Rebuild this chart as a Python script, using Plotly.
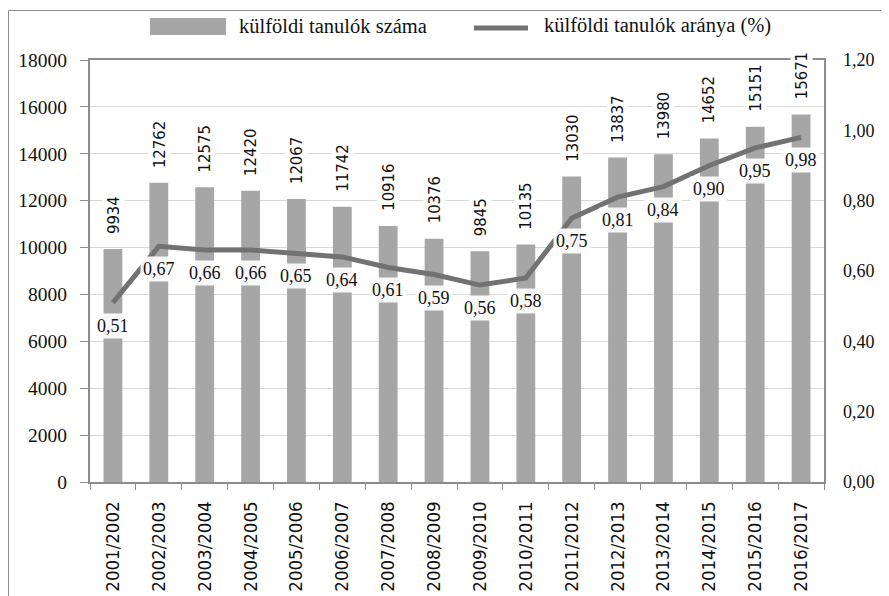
import plotly.graph_objects as go

categories = ["2001/2002", "2002/2003", "2003/2004", "2004/2005", "2005/2006", "2006/2007",
              "2007/2008", "2008/2009", "2009/2010", "2010/2011", "2011/2012", "2012/2013",
              "2013/2014", "2014/2015", "2015/2016", "2016/2017"]
student_counts = [9934, 12762, 12575, 12420, 12067, 11742, 10916, 10376, 9845, 10135,
                  13030, 13837, 13980, 14652, 15151, 15671]
student_share = [0.51, 0.67, 0.66, 0.66, 0.65, 0.64, 0.61, 0.59, 0.56, 0.58,
                 0.75, 0.81, 0.84, 0.90, 0.95, 0.98]
left_ticks = [0, 2000, 4000, 6000, 8000, 10000, 12000, 14000, 16000, 18000]
right_ticks = [0, 0.2, 0.4, 0.6, 0.8, 1.0, 1.2]
series_names = ["külföldi tanulók száma", "külföldi tanulók aránya (%)"]

BAR_C = "#a6a6a6"
LINE_C = "#727272"
FRAME_C = "#8c8c8c"
GRID_C = "#d9d9d9"
SERIF = "Liberation Serif"
SANS = "DejaVu Sans Condensed, DejaVu Sans"

# window is 889x596; the page body adds an 8px offset
OFF = 8
WIN_W, WIN_H = 889, 596
W, H = WIN_W - OFF, WIN_H - OFF
PLOT_X0, PLOT_X1, PLOT_Y0, PLOT_Y1 = 90, 824, 60, 482   # window pixel coords
L, R, T, B = PLOT_X0 - OFF, WIN_W - PLOT_X1, PLOT_Y0 - OFF, WIN_H - PLOT_Y1
PW, PH = PLOT_X1 - PLOT_X0, PLOT_Y1 - PLOT_Y0


def px(x):
    return (x - PLOT_X0) / PW


def py(y):
    return (PLOT_Y1 - y) / PH


fig = go.Figure()
fig.add_trace(go.Bar(x=categories, y=student_counts, marker_color=BAR_C,
                     marker_line_width=0, name=series_names[0], showlegend=False))
fig.add_trace(go.Scatter(x=categories, y=student_share, yaxis="y2", mode="lines",
                         line=dict(color=LINE_C, width=5), name=series_names[1],
                         showlegend=False))

annotations = []
for c, v in zip(categories, student_counts):
    annotations.append(dict(x=c, y=v, xref="x", yref="y", text=str(v), textangle=-90,
                            showarrow=False, yanchor="bottom", xanchor="center", yshift=13,
                            bgcolor="white", borderpad=1,
                            font=dict(family=SANS, size=16.5, color="#111")))
for c, v in zip(categories, student_share):
    annotations.append(dict(x=c, y=v, xref="x", yref="y2",
                            text=f"{v:.2f}".replace(".", ","),
                            showarrow=False, yanchor="middle", xanchor="center", yshift=-23,
                            bgcolor="rgba(255,255,255,0.92)", borderpad=2,
                            font=dict(family=SERIF, size=18, color="#111")))

# legend (drawn manually to match swatch shapes)
annotations.append(dict(x=px(237), y=py(26), xref="paper", yref="paper", text=series_names[0],
                        showarrow=False, xanchor="left", yanchor="middle",
                        font=dict(family=SERIF, size=20.5, color="#111")))
annotations.append(dict(x=px(542), y=py(26), xref="paper", yref="paper", text=series_names[1],
                        showarrow=False, xanchor="left", yanchor="middle",
                        font=dict(family=SERIF, size=20.5, color="#111")))

shapes = [
    dict(type="rect", xref="paper", yref="paper", x0=px(150), x1=px(226), y0=py(35), y1=py(18),
         fillcolor=BAR_C, line_width=0),
    dict(type="line", xref="paper", yref="paper", x0=px(474), x1=px(528), y0=py(28), y1=py(28),
         line=dict(color=LINE_C, width=5)),
    dict(type="rect", xref="paper", yref="paper", x0=px(8.5), x1=px(930), y0=py(640), y1=py(10.5),
         line=dict(color=FRAME_C, width=1), fillcolor="rgba(0,0,0,0)", layer="below"),
]

fig.update_layout(
    width=W, height=H,
    margin=dict(l=L, r=R, t=T, b=B, autoexpand=False),
    paper_bgcolor="white", plot_bgcolor="white",
    separators=",.",
    bargap=0.59,
    showlegend=False,
    annotations=annotations,
    shapes=shapes,
    xaxis=dict(type="category", tickson="boundaries", ticks="outside", ticklen=6,
               tickcolor=FRAME_C, showline=True, linecolor=FRAME_C, linewidth=2, mirror=True,
               showgrid=False, tickangle=-90, ticklabelstandoff=10, automargin=False,
               tickfont=dict(family=SANS, size=18.5, color="#111")),
    yaxis=dict(range=[0, 18000], tickvals=left_ticks, tickformat="d", ticks="outside",
               ticklen=8, tickcolor=FRAME_C, showline=True, linecolor=FRAME_C, linewidth=2,
               mirror=True, gridcolor=GRID_C, gridwidth=1, zeroline=False,
               ticklabelstandoff=9, automargin=False,
               tickfont=dict(family=SERIF, size=19.5, color="#111")),
    yaxis2=dict(range=[0, 1.2], tickvals=right_ticks, tickformat=".2f", overlaying="y",
                side="right", showgrid=False, zeroline=False, showline=False, ticks="",
                ticklabelstandoff=18, automargin=False,
                tickfont=dict(family=SERIF, size=18, color="#111")),
)

fig.write_html("out.html")
